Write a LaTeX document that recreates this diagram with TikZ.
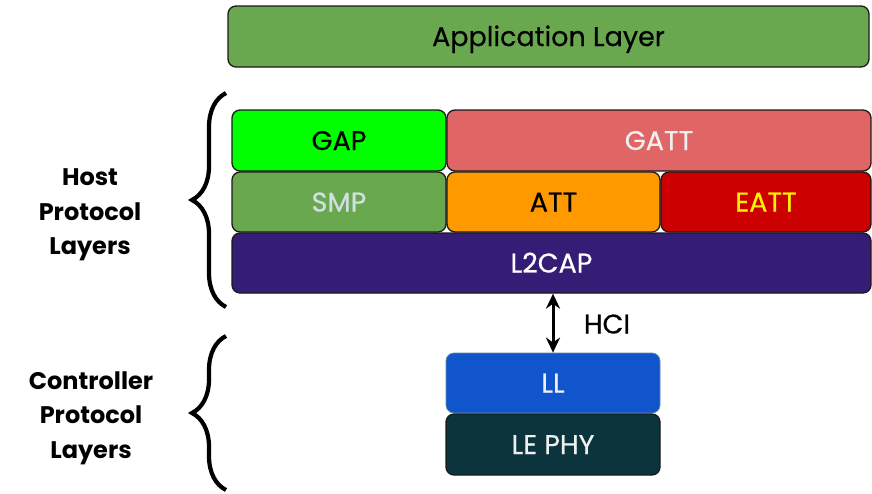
\documentclass[tikz,border=0pt]{standalone}
\usepackage{fontspec}
\setmainfont{Poppins}
\newfontfamily\boxfont{Poppins}[FakeBold=0.5]
\usetikzlibrary{arrows.meta,decorations.pathreplacing}
\definecolor{appgreen}{HTML}{6AA84F}
\definecolor{gapgreen}{HTML}{00FF00}
\definecolor{gattred}{HTML}{E06666}
\definecolor{attorange}{HTML}{FF9900}
\definecolor{eattred}{HTML}{CC0000}
\definecolor{l2purple}{HTML}{351C75}
\definecolor{llblue}{HTML}{1155CC}
\definecolor{phyteal}{HTML}{0C343D}
\definecolor{edgegray}{HTML}{1A1A1A}
\definecolor{lledge}{HTML}{5B8FA0}
\definecolor{lighttext}{HTML}{EFEFEF}
\definecolor{smptext}{HTML}{D0E0E3}
\begin{document}
\begin{tikzpicture}[x=1pt,y=-1pt,
  layer/.style={draw=edgegray, line width=1.3pt, rounded corners=8pt,
    inner sep=0pt, text height=19pt, text depth=0pt,
    font=\boxfont\fontsize{27}{31}\selectfont},
  sidelabel/.style={align=center, font=\fontsize{24}{34.5}\selectfont\bfseries},
  bracket/.style={decorate, decoration={brace, amplitude=34pt}, line width=4.2pt}]
\useasboundingbox (0,0) rectangle (872,493);

% host stack
\node[layer, fill=appgreen, minimum width=641pt, minimum height=61pt] (app) at (548.5,36.5) {Application Layer};
\node[layer, fill=gapgreen, minimum width=214pt, minimum height=61pt] (gap) at (339,140.5) {GAP};
\node[layer, fill=gattred, text=lighttext, minimum width=424pt, minimum height=61pt] (gatt) at (659,140.5) {GATT};
\node[layer, fill=appgreen, text=smptext, minimum width=214pt, minimum height=60pt] (smp) at (339,202) {SMP};
\node[layer, fill=attorange, minimum width=213pt, minimum height=60pt] (att) at (553.5,202) {ATT};
\node[layer, fill=eattred, text=yellow, minimum width=210pt, minimum height=60pt] (eatt) at (766,202) {EATT};
\node[layer, fill=l2purple, text=white, minimum width=639pt, minimum height=60pt] (l2cap) at (551.5,263) {L2CAP};

% controller stack
\node[layer, draw=lledge, line width=0.8pt, fill=llblue, text=lighttext, minimum width=214pt, minimum height=60pt] (ll) at (553,383) {LL};
\node[layer, fill=phyteal, text=lighttext, minimum width=214pt, minimum height=61pt] (phy) at (553,444.5) {LE PHY};

% host controller interface
\draw[{Stealth[length=15pt,width=14pt]}-{Stealth[length=15pt,width=14pt]}, line width=3pt]
  (ll.north) -- (ll.north |- l2cap.south);
\node[font=\boxfont\fontsize{27}{31}\selectfont, text height=19pt, text depth=0pt] (hci) at (607,324) {HCI};

% braces and group labels
\coordinate (hosttop) at (226,93);
\coordinate (hostbot) at (226,307);
\coordinate (ctrltop) at (226,336);
\coordinate (ctrlbot) at (226,490);
\draw[bracket] (hostbot) -- (hosttop);
\draw[bracket] (ctrlbot) -- (ctrltop);
\node[sidelabel] (hostlbl) at (90,215) {Host\\Protocol\\Layers};
\node[sidelabel] (ctrllbl) at (91,418) {Controller\\Protocol\\Layers};
\end{tikzpicture}
\end{document}
